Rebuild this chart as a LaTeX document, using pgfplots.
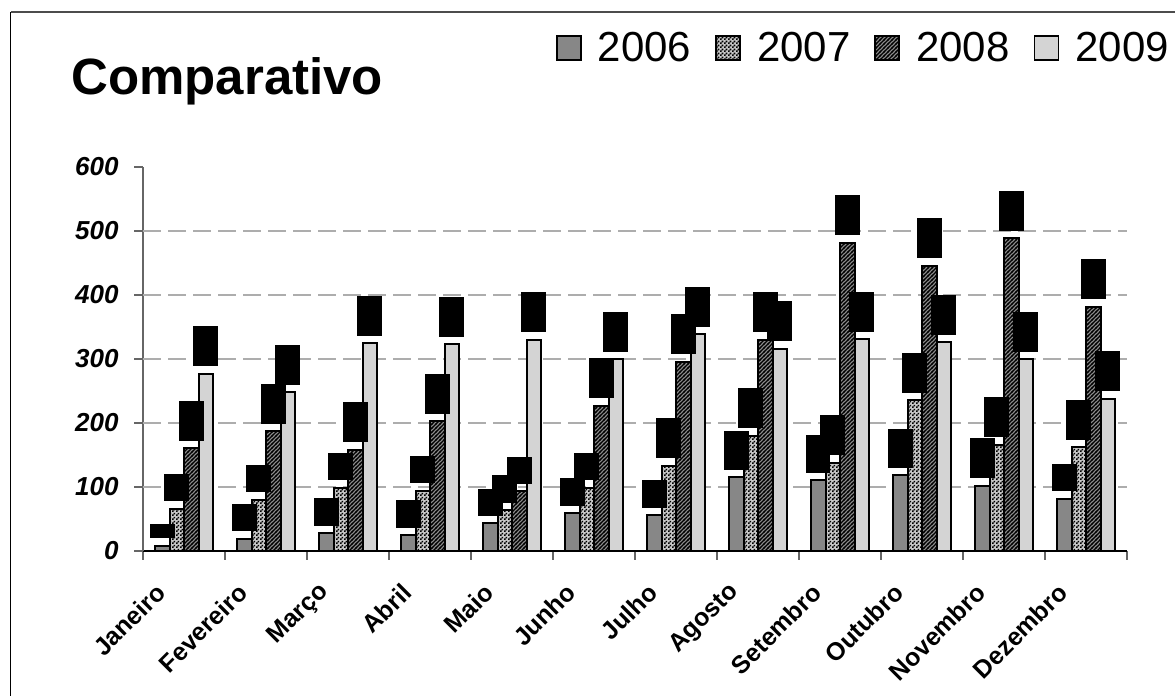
\documentclass[border=0pt]{standalone}
\usepackage{fontspec}
\setmainfont{Liberation Sans}
\usepackage{graphicx}
\usepackage{pgfplots}
\usepackage{pgfplotstable}
\pgfplotsset{compat=1.18}
\usetikzlibrary{patterns}

\pgfdeclarepatternformonly{checkertwo}{\pgfpointorigin}{\pgfpoint{2bp}{2bp}}{\pgfpoint{2bp}{2bp}}{%
  \pgfpathrectangle{\pgfpointorigin}{\pgfpoint{1bp}{1bp}}%
  \pgfpathrectangle{\pgfpoint{1bp}{1bp}}{\pgfpoint{1bp}{1bp}}%
  \pgfusepath{fill}}
\pgfdeclarepatternformonly{hatchtwo}{\pgfpoint{-0.5bp}{-0.5bp}}{\pgfpoint{2.5bp}{2.5bp}}{\pgfpoint{2bp}{2bp}}{%
  \pgfsetlinewidth{0.7bp}%
  \pgfpathmoveto{\pgfpoint{-0.5bp}{-0.5bp}}\pgfpathlineto{\pgfpoint{2.5bp}{2.5bp}}%
  \pgfusepath{stroke}}

\pgfplotstableread{
m a b c d
0 8 66 161 277
1 19 80 187 248
2 28 99 158 325
3 25 94 203 323
4 43 64 93 330
5 59 99 227 300
6 56 133 296 339
7 115 180 330 316
8 111 138 482 331
9 118 236 446 326
10 102 166 489 300
11 82 162 382 238
}\datatable

\pgfplotsset{
  mybar/.style={ybar, bar width=7.25bp, line width=1bp, draw=black,
    legend image code/.code={\draw[##1, line width=0.9bp] (0bp,-6bp) rectangle (12bp,6bp);}},
  mylab/.style={draw=none, mark=none, forget plot, point meta=y,
    nodes near coords={\rotatebox{90}{\pgfmathprintnumber{\pgfplotspointmeta}}},
    every node near coord/.append style={fill=black, text=black, inner xsep=2.15bp, inner ysep=0.5bp,
      font=\fontsize{11.4bp}{12bp}\selectfont\bfseries, anchor=south, yshift=3.5bp}},
}

\begin{document}
\begin{tikzpicture}
\useasboundingbox (0,0) rectangle (587.5bp,348bp);
\draw[line width=0.8bp, black] (5.25bp,0) -- (5.25bp,342bp);
\draw[line width=0.8bp, black!70] (5.25bp,342bp) -- (587.5bp,342bp);
\node[anchor=base west, inner sep=0, font=\fontsize{25.5bp}{30bp}\selectfont\bfseries] at (35.5bp,300.5bp) {Comparativo};
\begin{axis}[
  at={(71.5bp,72.5bp)}, anchor=south west,
  scale only axis, width=492bp, height=192bp,
  xmin=-0.5, xmax=11.5, ymin=0, ymax=600,
  axis lines*=left,
  x axis line style={line width=0.6bp, black},
  y axis line style={line width=0.6bp, black!60},
  tick align=outside,
  major tick length=4.5bp,
  tick style={line width=0.6bp, black!60},
  ytick={0,100,...,600},
  x tick label as interval,
  xtick={-0.5,0.5,...,11.5},
  xticklabels={Janeiro,Fevereiro,Março,Abril,Maio,Junho,Julho,Agosto,Setembro,Outubro,Novembro,Dezembro},
  xticklabel style={font=\fontsize{12.5bp}{14bp}\selectfont\bfseries, inner sep=0pt, xshift=-11.5bp, yshift=-14bp, rotate=45, anchor=east},
  yticklabel style={font=\fontsize{13bp}{15bp}\selectfont\bfseries\itshape, inner sep=0pt, anchor=east, xshift=-7.5bp},
  /pgf/number format/assume math mode=true,
  extra y ticks={100,200,300,400,500},
  extra y tick labels={},
  extra y tick style={grid=major},
  grid style={dash pattern=on 9bp off 3.5bp, black!32, line width=0.7bp},
  legend columns=4,
  legend style={at={(0.4197,1.3099)}, anchor=west, draw=none, fill=none, inner sep=0pt, outer sep=0pt,
    font=\fontsize{21bp}{24bp}\selectfont,
    /tikz/every even column/.append style={column sep=12bp},
    /tikz/every odd column/.append style={column sep=8bp},
    nodes={inner sep=0pt}},
]
\addplot[mybar, bar shift=-10.875bp, fill=black!47] table[x=m,y=a]{\datatable};
\addplot[mybar, bar shift=-3.625bp, fill=black!22, postaction={pattern=checkertwo, pattern color=black}] table[x=m,y=b]{\datatable};
\addplot[mybar, bar shift=3.625bp, fill=black!45, postaction={pattern=hatchtwo, pattern color=black}] table[x=m,y=c]{\datatable};
\addplot[mybar, bar shift=10.875bp, fill=black!17] table[x=m,y=d]{\datatable};
\legend{2006,2007,2008,2009}
\addplot[mylab] table[x expr=\thisrow{m}-0.26524, y=a]{\datatable};
\addplot[mylab] table[x expr=\thisrow{m}-0.08841, y=b]{\datatable};
\addplot[mylab] table[x expr=\thisrow{m}+0.08841, y=c]{\datatable};
\addplot[mylab] table[x expr=\thisrow{m}+0.26524, y=d]{\datatable};
\end{axis}
\end{tikzpicture}
\end{document}
